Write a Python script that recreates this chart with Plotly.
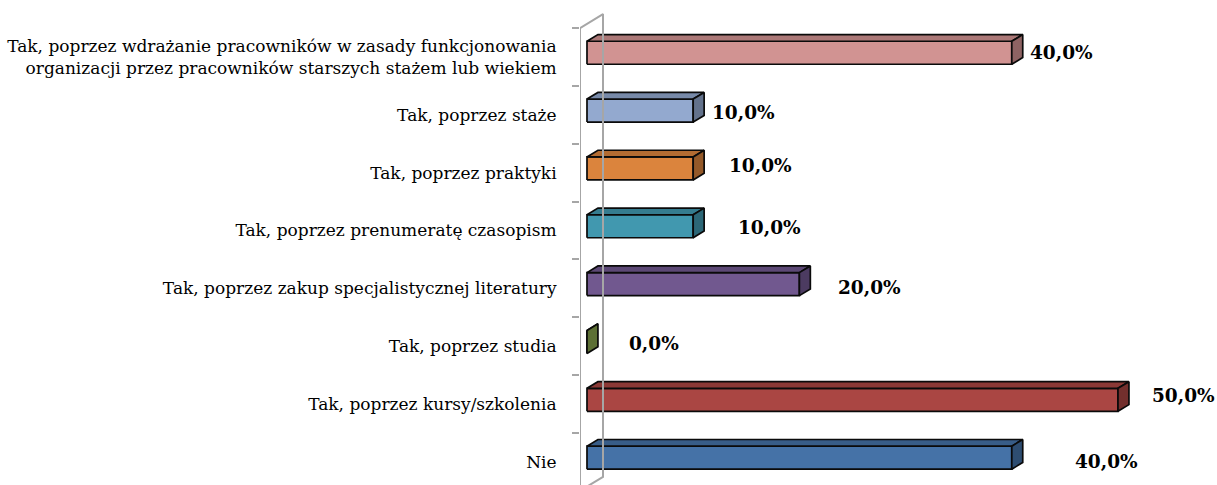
import plotly.graph_objects as go

# Survey answers (top to bottom) and their shares in percent
categories = [
    "Tak, poprzez wdrażanie pracowników w zasady funkcjonowania<br>organizacji przez pracowników starszych stażem lub wiekiem",
    "Tak, poprzez staże",
    "Tak, poprzez praktyki",
    "Tak, poprzez prenumeratę czasopism",
    "Tak, poprzez zakup specjalistycznej literatury",
    "Tak, poprzez studia",
    "Tak, poprzez kursy/szkolenia",
    "Nie",
]
values = [40.0, 10.0, 10.0, 10.0, 20.0, 0.0, 50.0, 40.0]
bar_colors = ["#D19392", "#93A9CF", "#DB843D", "#4198AF",
              "#71588F", "#89A54E", "#AA4643", "#4572A7"]

# Pixel nudges for each value label (x right, y up)
label_dx = [5, 6, 23, 32, 26, 29, 21, 50]
label_dy = [4, 2, 7, 3, 1, 3, 9, 0]

# Oblique projection of the 3-D bars
PX_PER_PCT = 10.62
PX_PER_CAT = 57.86
WALL_DX = 23 / PX_PER_PCT      # full wall depth along x (in %)
WALL_DY = 14 / PX_PER_CAT      # full wall depth along y (in categories)
D_FRONT, D_BACK = 0.304, 0.78  # bar depth slice inside the wall
HALF_H = 11.5 / PX_PER_CAT

n = len(categories)
ypos = list(range(n - 1, -1, -1))  # top row gets the highest index

X_MAX = (1217 - 580) / PX_PER_PCT
Y_MAX = (n - 1) + 57 / PX_PER_CAT
Y_MIN = -(485 - 461.9) / PX_PER_CAT


def shade(hex_color, f):
    h = hex_color.lstrip("#")
    r, g, b = (int(h[i:i + 2], 16) for i in (0, 2, 4))
    return "#{:02X}{:02X}{:02X}".format(int(r * f), int(g * f), int(b * f))


def proj(v, y, d):
    return v + d * WALL_DX, y + d * WALL_DY


fig = go.Figure()

for val, yc, col in zip(values, ypos, bar_colors):
    lo, hi = yc - HALF_H, yc + HALF_H
    faces = [
        # front
        ([proj(0, lo, D_FRONT), proj(val, lo, D_FRONT), proj(val, hi, D_FRONT), proj(0, hi, D_FRONT)], col),
        # top
        ([proj(0, hi, D_FRONT), proj(val, hi, D_FRONT), proj(val, hi, D_BACK), proj(0, hi, D_BACK)], shade(col, 0.82)),
        # right end
        ([proj(val, lo, D_FRONT), proj(val, lo, D_BACK), proj(val, hi, D_BACK), proj(val, hi, D_FRONT)], shade(col, 0.68)),
    ]
    for pts, fc in faces:
        xs = [p[0] for p in pts] + [pts[0][0]]
        ys = [p[1] for p in pts] + [pts[0][1]]
        fig.add_trace(go.Scatter(
            x=xs, y=ys, mode="lines", fill="toself", fillcolor=fc,
            line=dict(color="#0A0A0A", width=1.7), hoverinfo="skip", showlegend=False,
        ))

# Side wall of the category axis
y_bot, y_top = -0.5, n - 0.5
wall_x = [0, 0, WALL_DX, WALL_DX, 0]
wall_y = [y_bot, y_top, y_top + WALL_DY, y_bot + WALL_DY, y_bot]
fig.add_trace(go.Scatter(
    x=wall_x, y=wall_y, mode="lines", line=dict(color="#A6A6A6", width=2),
    hoverinfo="skip", showlegend=False, yaxis="y2",
))

# Value labels
for val, yc, dx, dy in zip(values, ypos, label_dx, label_dy):
    fig.add_annotation(
        x=val + D_BACK * WALL_DX, y=yc, xref="x", yref="y",
        text=f"{val:.1f}".replace(".", ",") + "%",
        showarrow=False, xanchor="left", yanchor="middle",
        xshift=dx, yshift=dy,
        font=dict(family="DejaVu Serif", size=18.5, color="black", weight="bold"),
    )

fig.update_layout(
    width=1217, height=485,
    margin=dict(l=580, r=0, t=0, b=0),
    paper_bgcolor="white", plot_bgcolor="white",
    xaxis=dict(range=[0, X_MAX], visible=False, fixedrange=True),
    yaxis=dict(
        range=[Y_MIN, Y_MAX], tickvals=ypos, ticktext=categories,
        ticks="outside", ticklen=19, tickcolor="rgba(0,0,0,0)",
        tickfont=dict(family="DejaVu Serif", size=17, color="black"),
        showgrid=False, zeroline=False, showline=False, fixedrange=True,
    ),
    yaxis2=dict(
        range=[Y_MIN, Y_MAX], overlaying="y", anchor="x", side="left",
        tickvals=[i + 0.5 for i in range(n)], showticklabels=False,
        ticks="outside", ticklen=7, tickwidth=1.5, tickcolor="#A6A6A6",
        showgrid=False, zeroline=False, showline=False, fixedrange=True,
    ),
)

fig.write_html("out.html")
